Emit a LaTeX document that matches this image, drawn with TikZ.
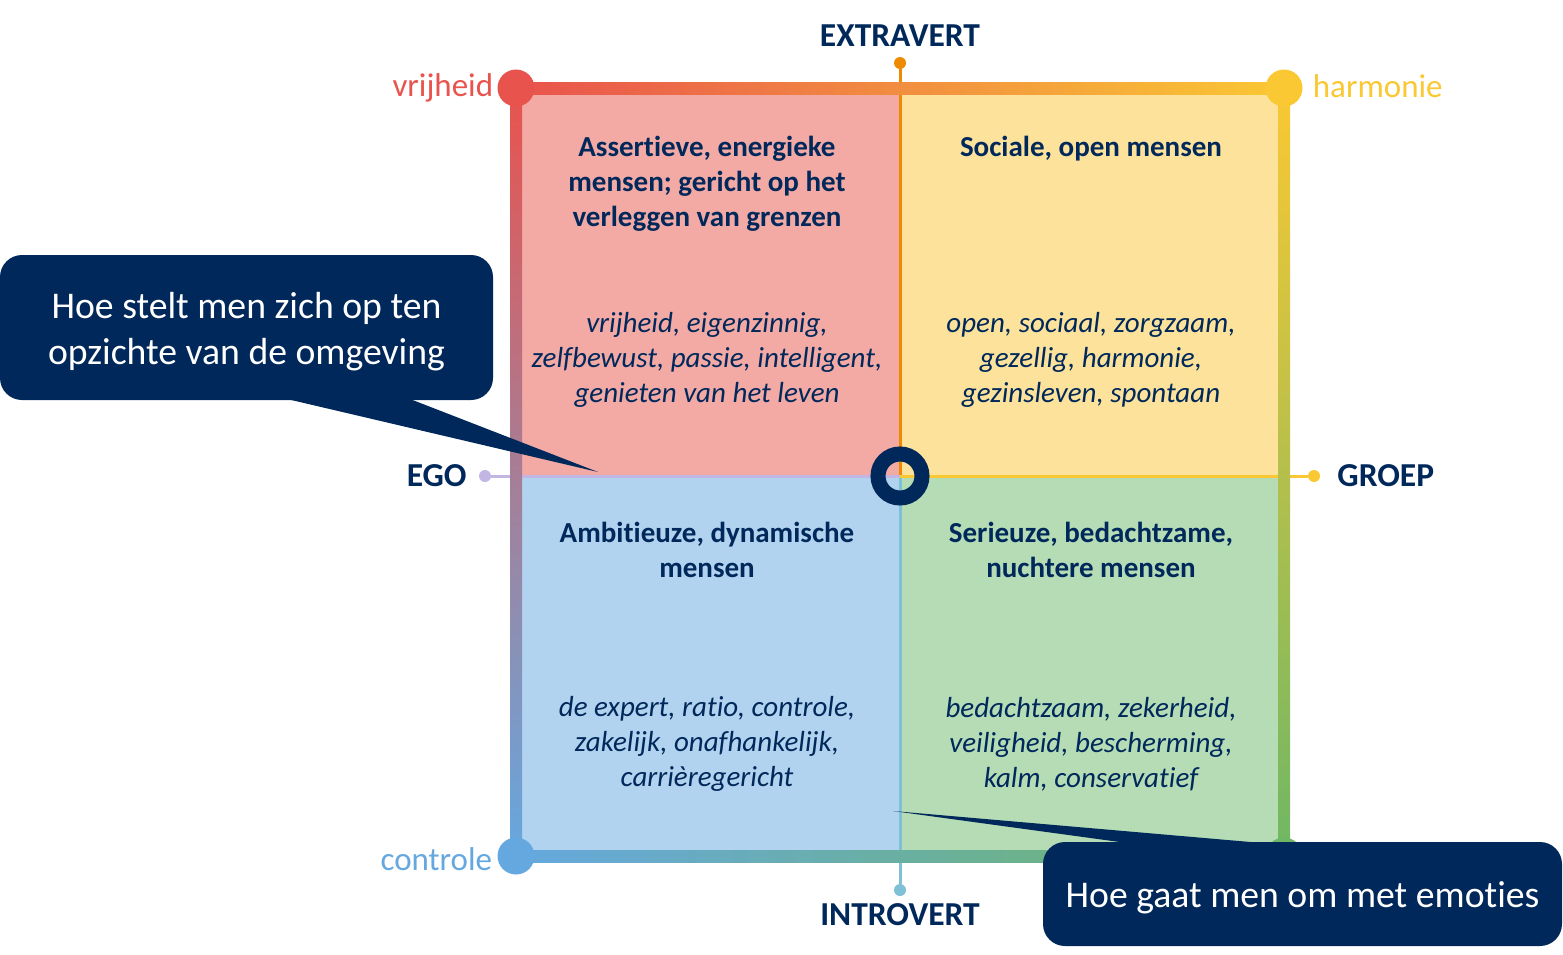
\documentclass[tikz,border=0pt]{standalone}
\usepackage{fontspec}
\setmainfont[Ligatures=NoCommon]{Carlito}
\usepackage{tikz}
\usetikzlibrary{positioning}
\usepackage{xcolor}
\definecolor{navy}{HTML}{00285A}
\definecolor{fred}{HTML}{E9534D}
\definecolor{fyel}{HTML}{FAC833}
\definecolor{fblue}{HTML}{65A8DF}
\definecolor{fgreen}{HTML}{6FB764}
\definecolor{pinkq}{HTML}{F3A9A4}
\definecolor{yelq}{HTML}{FDE29B}
\definecolor{blueq}{HTML}{B2D3EF}
\definecolor{greenq}{HTML}{B5DCB5}
\definecolor{axorange}{HTML}{EE8A00}
\definecolor{axteal}{HTML}{7EC0D5}
\definecolor{axlav}{HTML}{C2B6E2}
\newcommand{\lowline}[1]{\raisebox{-4pt}[\height][\depth]{#1}}

\begin{document}
\begin{tikzpicture}[x=1pt, y=-1pt,
		title/.style={font=\bfseries\fontsize{29}{35}\selectfont, text=navy, align=center, inner sep=0},
		descr/.style={font=\itshape\fontsize{29}{35}\selectfont, text=navy, align=center, inner sep=0},
		axislabel/.style={font=\bfseries\fontsize{33.5}{38}\selectfont, text=navy, inner sep=0},
		cornerlabel/.style={font=\fontsize{33}{38}\selectfont, inner sep=0},
		enddot/.style={circle, inner sep=0, minimum size=12pt},
		cornerdot/.style={circle, inner sep=0, minimum size=37pt},
		axisline/.style={line width=3pt},
		callout/.style={fill=navy, rounded corners=22pt, text=white, align=center, font=\fontsize{37.7}{46}\selectfont}]
		\useasboundingbox (0,0) rectangle (1563,954);
		\fill[pinkq] (516,88) rectangle (900,476);
		\fill[yelq] (900,88) rectangle (1284,476);
		\fill[blueq] (516,476) rectangle (900,856);
		\fill[greenq] (900,476) rectangle (1284,856);
		
		\coordinate (ctr) at (900,476);
		\draw (900,63) node[enddot, fill=axorange] (xt) {}
		(900,890) node[enddot, fill=axteal] (xb) {}
		(485,476) node[enddot, fill=axlav] (xl) {}
		(1314,476) node[enddot, fill=fyel] (xr) {};
		
		\draw[axisline, axorange] (ctr) -- (xt);
		\draw[axisline, axteal] (ctr) -- (xb);
		\draw[axisline, axlav] (ctr) -- (xl);
		\draw[axisline, fyel] (ctr) -- (xr);
		
		\shade[left color=fred, right color=fyel] (516,82) rectangle (1284,94);
		\shade[left color=fblue, right color=fgreen] (516,850) rectangle (1284,862);
		\shade[top color=fred, bottom color=fblue] (510,88) rectangle (522,856);
		\shade[top color=fyel, bottom color=fgreen] (1278,88) rectangle (1290,856);
		
		\draw (516,88) node[cornerdot, fill=fred] (cv) {}
		(1284,88) node[cornerdot, fill=fyel] (ch) {}
		(516,856) node[cornerdot, fill=fblue] (cc) {}
		(1284,856) node[cornerdot, fill=fgreen] (cg) {};
		
		\node[cornerlabel, text=fred, left=4pt of cv] (lv) {vrijheid};
		\node[cornerlabel, text=fyel, right=10pt of ch, yshift=2pt] (lh) {harmonie};
		\node[cornerlabel, text=fblue, left=5pt of cc, yshift=-3pt] (lc) {controle};
		
		\node[axislabel, above=10pt of xt] (ext) {EXTRAVERT};
		\node[axislabel, below=7pt of xb] (int) {INTROVERT};
		\node[axislabel, left=12pt of xl] (ego) {EGO};
		\node[axislabel, right=17pt of xr] (grp) {GROEP};
		
		\node[draw=navy, line width=15pt, circle, inner sep=0, minimum size=44pt] (ring) at (ctr) {};
		
		\draw (707,184) node[title] (tl) {Assertieve, energieke\\mensen; gericht op het\\verleggen van grenzen}
		(1091,149) node[title] (tr) {Sociale, open mensen}
		(707,550) node[title] (bl) {Ambitieuze, dynamische\\mensen}
		(1091,550) node[title] (br) {Serieuze, bedachtzame,\\nuchtere mensen};
		
		\draw (707,360) node[descr] (tld) {vrijheid, eigenzinnig,\\zelfbewust, passie, intelligent,\\genieten van het leven}
		(1091,360) node[descr] (trd) {open, sociaal, zorgzaam,\\gezellig, harmonie,\\gezinsleven, spontaan}
		(707,744) node[descr] (bld) {de expert, ratio, controle,\\zakelijk, onafhankelijk,\\carrièregericht}
		(1091,744) node[descr] (brd) {bedachtzaam, zekerheid,\\veiligheid, bescherming,\\kalm, conservatief};
		
		\coordinate (qatip) at (598,472);
		\coordinate (qbtip) at (893,811);
		\fill[navy] (287,399) -- (qatip) -- (410,399) -- cycle;
		\fill[navy] (1127,843) -- (qbtip) -- (1262,843) -- cycle;
		\node[callout, minimum width=493pt, minimum height=145pt] (qa) at (246.5,327.5) {\lowline{Hoe stelt men zich op ten}\\\lowline{opzichte van de omgeving}};
		\node[callout, minimum width=519pt, minimum height=104pt] (qb) at (1302.5,894) {\lowline{Hoe gaat men om met emoties}};
	\end{tikzpicture}
\end{document}
